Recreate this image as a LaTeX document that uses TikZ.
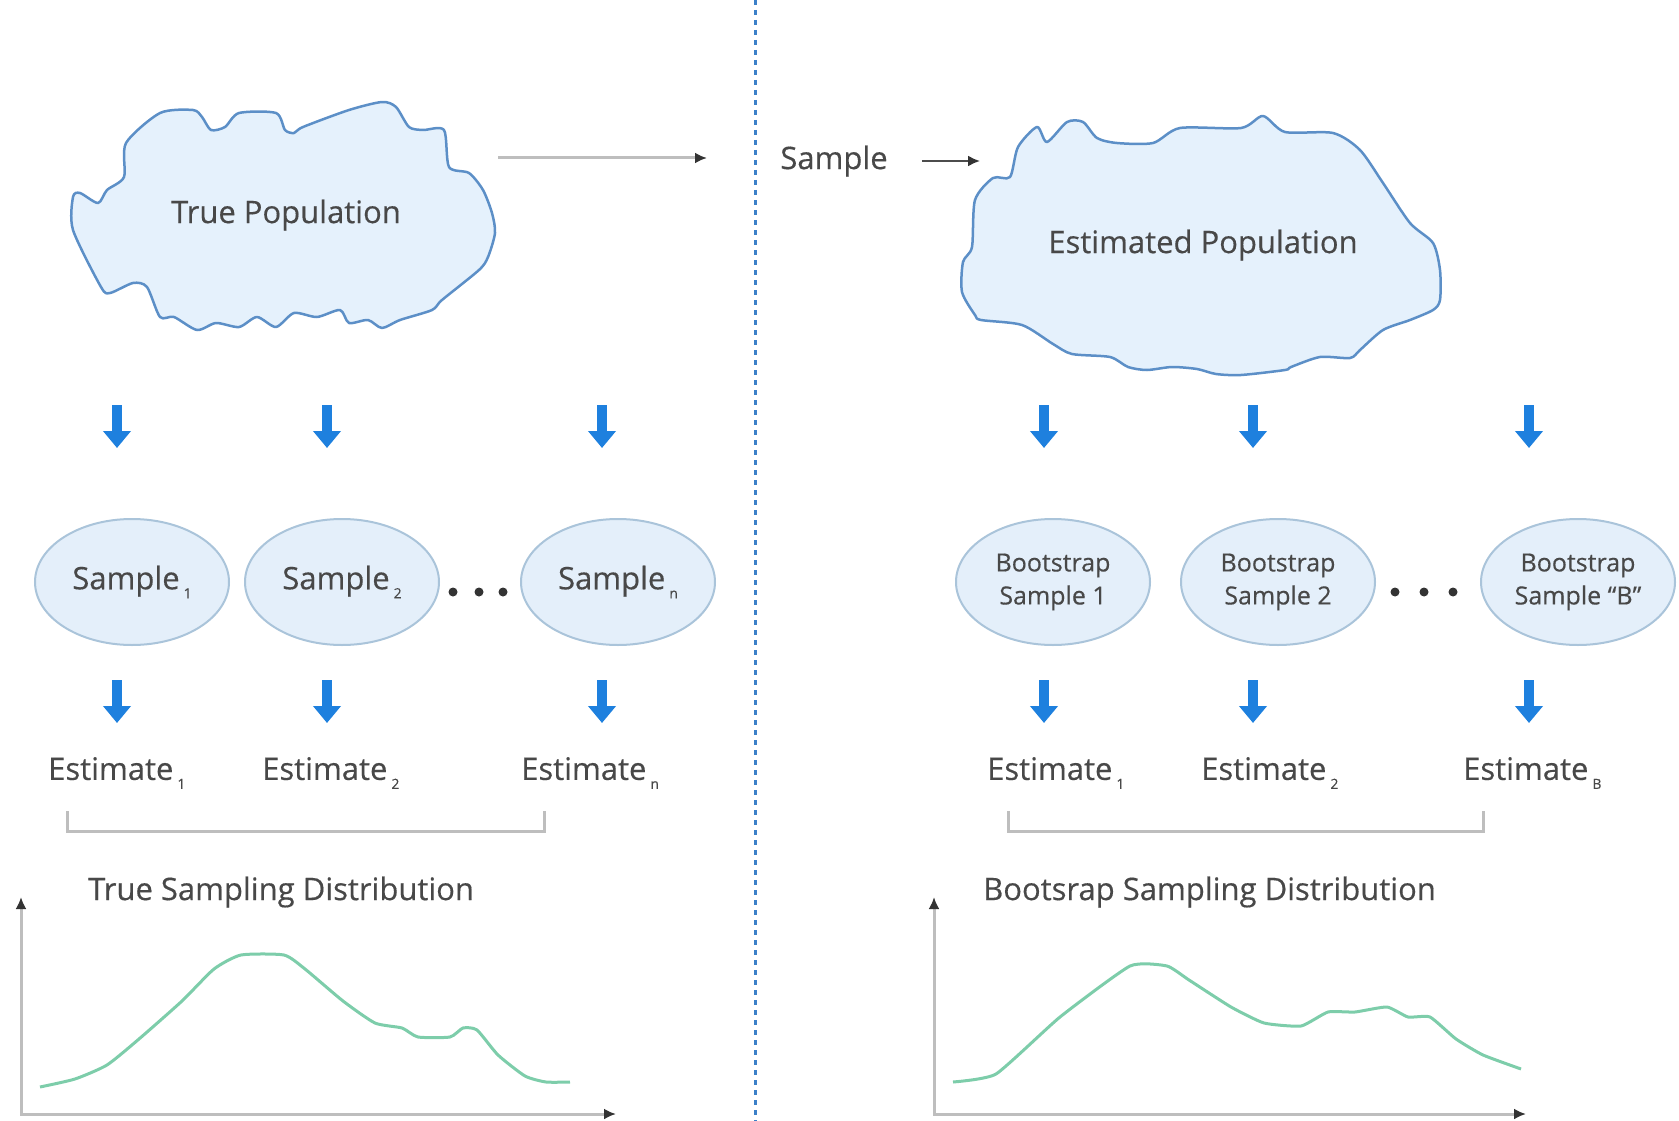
\documentclass[tikz,border=0pt]{standalone}
\usepackage{fontspec}
\setmainfont{Open Sans}[FakeBold=0.4]
\usetikzlibrary{positioning,shapes.geometric,arrows.meta}
\newcommand{\lowidx}[1]{\hspace{4pt}\raisebox{-9pt}{\fontsize{14}{14}\selectfont #1}}
\definecolor{txt}{RGB}{72,72,72}
\definecolor{cloudfill}{RGB}{229,241,252}
\definecolor{cloudline}{RGB}{92,143,199}
\definecolor{sampfill}{RGB}{228,239,250}
\definecolor{sampline}{RGB}{170,196,218}
\definecolor{bluearr}{RGB}{30,128,222}
\definecolor{axgray}{RGB}{190,190,190}
\definecolor{distgreen}{RGB}{125,205,170}
\definecolor{divblue}{RGB}{60,128,200}

\begin{document}
\begin{tikzpicture}[x=1pt,y=-1pt,%
  lbl/.style={text=txt,font=\fontsize{31}{36}\selectfont,inner sep=0pt},%
  samp/.style={ellipse,draw=sampline,line width=2pt,fill=sampfill,minimum width=194pt,minimum height=126pt,inner sep=0pt,text=txt,font=\fontsize{31}{36}\selectfont},%
  boot/.style={samp,font=\fontsize{25}{33}\selectfont,align=center},%
  blk/.style={-{Triangle[width=27pt,length=17pt]},line width=10pt,bluearr},%
  arr/.style={-{Latex[length=12pt,width=11pt,color=black!80]},line width=3pt,axgray},%
  ax/.style={{Latex[length=12pt,width=11pt,color=black!80]}-{Latex[length=12pt,width=11pt,color=black!80]},line width=3pt,axgray},%
  popshape/.style={draw=cloudline,fill=cloudfill,line width=2.5pt,line join=round},%
  distline/.style={distgreen,line width=3pt,line join=round}%
  ]
  \useasboundingbox (0,0) rectangle (1679,1121);
%
  \draw[divblue,line width=3pt,dash pattern=on 5pt off 5pt] (755,0) -- (755,1121);
%
  \draw[popshape] plot[smooth cycle,tension=0.45] coordinates {
    (73,197) (80,193) (98,203) (107,190) (124,177) (126,143) (160,113)
    (193,110) (202,117) (211,130) (225,127) (239,113) (276,113) (285,130)
    (294,133) (303,127) (349,110) (382,102) (396,107) (409,127) (423,130)
    (444,130) (449,167) (469,173) (483,190) (492,213) (495,233) (488,257)
    (479,270) (442,300) (432,310) (400,320) (382,328) (368,320) (349,323)
    (340,310) (317,317) (294,313) (276,327) (257,317) (239,327) (216,323)
    (197,330) (174,317) (160,317) (147,287) (133,283) (110,293) (101,287)
    (73,230)};
  \node (tp) [lbl] at (286,215) {True Population};
%
  \draw[popshape] plot[smooth cycle,tension=0.45] coordinates {
    (1018,147) (1037,127) (1047,142) (1067,122) (1083,122) (1097,138)
    (1117,143) (1153,143) (1180,128) (1241,128) (1263,116) (1285,132)
    (1333,133) (1360,150) (1383,183) (1410,223) (1433,243) (1440,270)
    (1440,300) (1433,310) (1410,320) (1383,330) (1360,350) (1350,358)
    (1320,357) (1291,367) (1285,370) (1241,375) (1216,374)
    (1197,369) (1172,367) (1147,370) (1128,367) (1110,357) (1072,354)
    (1053,344) (1022,325) (981,320) (975,315) (962,292) (963,262)
    (972,247) (975,200) (993,178) (1010,177)};
  \node (ep) [lbl] at (1203,245) {Estimated Population};
%
  \coordinate (tpout) at (498,158);
  \coordinate (tpend) at (707,158);
  \draw[arr] (tpout) -- (tpend);
  \node (smp) [lbl] at (834,161) {Sample};
  \coordinate (epin) at (980,157);
  \draw[arr,line width=2pt,black!70] ([xshift=34pt]smp.east) -- (smp.east -| epin);
%
  \node (s-1) [samp] at (132,582) {Sample\lowidx{1}};
  \node (s-2) [samp] at (342,582) {Sample\lowidx{2}};
  \node (s-n) [samp] at (618,582) {Sample\lowidx{n}};
  \node (b-1) [boot] at (1053,582) {Bootstrap\\Sample 1};
  \node (b-2) [boot] at (1278,582) {Bootstrap\\Sample 2};
  \node (b-B) [boot] at (1578,582) {Bootstrap\\Sample ``B''};
  \foreach \x in {453,479,503,1395,1424,1453}
    \fill[black!80] (\x,592) circle (4.5pt);
%
  \foreach \x [count=\i] in {117,327,602,1044,1253,1529} {
    \coordinate (u\i) at (\x,405); \coordinate (v\i) at (\x,448);
    \coordinate (w\i) at (\x,680); \coordinate (z\i) at (\x,723);
    \draw[blk] (u\i) -- (v\i);
    \draw[blk] (w\i) -- (z\i);
  }
%
  \node (e-1) [lbl,anchor=west] at (48,773)   {Estimate\lowidx{1}};
  \node (e-2) [lbl,anchor=west] at (262,773)  {Estimate\lowidx{2}};
  \node (e-n) [lbl,anchor=west] at (521,773)  {Estimate\lowidx{n}};
  \node (f-1) [lbl,anchor=west] at (987,773)  {Estimate\lowidx{1}};
  \node (f-2) [lbl,anchor=west] at (1201,773) {Estimate\lowidx{2}};
  \node (f-B) [lbl,anchor=west] at (1463,773) {Estimate\lowidx{B}};
  \draw[axgray,line width=3pt] (67,811) |- (544,831) -- (544,811);
  \draw[axgray,line width=3pt] (1008,811) |- (1483,831) -- (1483,811);
%
  \node (td) [lbl,anchor=west] at (88,892)  {True Sampling Distribution};
  \node (bd) [lbl,anchor=west] at (983,892) {Bootsrap Sampling Distribution};
  \draw[ax] (21,897) |- (616,1114);
  \draw[ax] (934,897) |- (1526,1114);
  \draw[distline] plot[smooth,tension=0.35] coordinates {
    (40,1087) (75,1079) (107,1065) (139,1039) (182,1001) (214,969) (241,955)
    (284,955) (305,969) (343,1001) (375,1023) (402,1028) (418,1037) (450,1037)
    (463,1028) (477,1030) (498,1055) (525,1076) (546,1082) (570,1082)};
  \draw[distline] plot[smooth,tension=0.3] coordinates {
    (953,1082) (996,1074) (1060,1017) (1130,966) (1167,966) (1189,980)
    (1231,1007) (1264,1023) (1301,1026) (1328,1012) (1355,1012) (1387,1007)
    (1408,1017) (1430,1017) (1456,1039) (1483,1055) (1521,1069)};
\end{tikzpicture}
\end{document}
